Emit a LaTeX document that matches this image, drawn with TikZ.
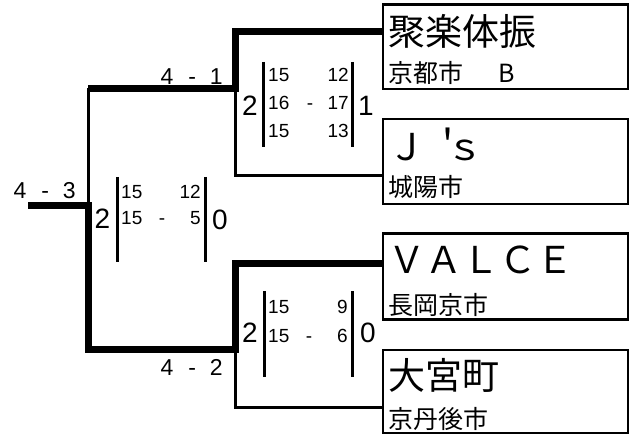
\documentclass[tikz,border=0pt]{standalone}
\usepackage{fontspec}
\setmainfont{Liberation Sans}
\newfontfamily\jp{Noto Sans CJK JP}
\begin{document}
\begin{tikzpicture}[x=1pt,y=-1pt,
  thickln/.style={line width=7pt},
  thinln/.style={line width=3pt},
  barln/.style={line width=3pt},
  team/.style={draw, line width=2.7pt, minimum width=245pt, inner sep=0pt},
  bigtxt/.style={font=\jp\fontsize{37}{40}\selectfont, anchor=west, inner sep=0pt},
  smalltxt/.style={font=\jp\fontsize{25}{28}\selectfont, anchor=west, inner sep=0pt},
  setn/.style={font=\fontsize{28}{30}\selectfont, inner sep=0pt},
  ptl/.style={font=\fontsize{19}{21}\selectfont, inner sep=0pt, anchor=base west},
  ptr/.style={font=\fontsize{19}{21}\selectfont, inner sep=0pt, anchor=base east},
  ptm/.style={font=\fontsize{19}{21}\selectfont, inner sep=0pt, anchor=base},
  res/.style={font=\fontsize{23}{25}\selectfont, inner sep=0pt, anchor=base east}
]
\useasboundingbox (0,0) rectangle (633,436);

% team boxes
\node[team, minimum height=84.5pt] (b1) at (505.5,46.75) {};
\node[team, minimum height=85pt]   (b2) at (505.5,161.5) {};
\node[team, minimum height=86pt]   (b3) at (505.5,276.5) {};
\node[team, minimum height=83pt]   (b4) at (505.5,391.5) {};

% team texts
\node[bigtxt]   (n1) at (388,31.5)  {聚楽体振};
\node[smalltxt] (c1) at (388,72.5)  {京都市　\hspace{10pt}B};
\node[bigtxt]   (n2) at (388,144.5) {Ｊ\kern4pt＇\kern-20pt ｓ};
\node[smalltxt] (c2) at (388,187)   {城陽市};
\node[bigtxt]   (n3) at (388,260)   {ＶＡＬＣＥ};
\node[smalltxt] (c3) at (388,304.5) {長岡京市};
\node[bigtxt]   (n4) at (388,375.5) {大宮町};
\node[smalltxt] (c4) at (388,418.5) {京丹後市};

% bracket corners
\coordinate (t1) at (235,32);
\coordinate (t2) at (235,88.5);
\coordinate (tb) at (235,176);
\coordinate (s1) at (88,88.5);
\coordinate (f)  at (88,205);
\coordinate (e)  at (28,205);
\coordinate (s2) at (88,349);
\coordinate (u2) at (235,349);
\coordinate (u1) at (235,263);
\coordinate (ub) at (235,407);

% connectors
\draw[thickln] (b1.west |- t1) -- (t1) -- (t2) -- (s1);
\draw[thinln]  (t2) -- (tb) -- (b2.west |- tb);
\draw[thinln]  (s1) -- (f);
\draw[thickln] (e) -- (f) -- (s2) -- (u2) -- (u1) -- (b3.west |- u1);
\draw[thinln]  (u2) -- (ub) -- (b4.west |- ub);

% match results
\node[res] (r1) at (223,85)  {4\hspace{15pt}-\hspace{14pt}1};
\node[res] (r3) at (76,198)  {4\hspace{15pt}-\hspace{14pt}3};
\node[res] (r2) at (223,375) {4\hspace{15pt}-\hspace{14pt}2};

% top match set scores
\node[setn] (m1l) at (250,106) {2};
\node[setn] (m1r) at (366,106) {1};
\draw[barln] (263.5,62) -- (263.5,147);
\draw[barln] (352,62) -- (352,147);
\node[ptl] (a1) at (268,82)  {15};
\node[ptr] (a2) at (349,82)  {12};
\node[ptl] (a3) at (268,110) {16};
\node[ptm] (a4) at (310,110) {-};
\node[ptr] (a5) at (349,110) {17};
\node[ptl] (a6) at (268,138) {15};
\node[ptr] (a7) at (349,138) {13};

% final set scores
\node[setn] (m2l) at (102.5,219) {2};
\node[setn] (m2r) at (220,220) {0};
\draw[barln] (117,177) -- (117,262);
\draw[barln] (205,177) -- (205,262);
\node[ptl] (d1) at (121,198) {15};
\node[ptr] (d2) at (201,198) {12};
\node[ptl] (d3) at (121,225) {15};
\node[ptm] (d4) at (162,225) {-};
\node[ptr] (d5) at (201,225) {5};

% bottom match set scores
\node[setn] (m3l) at (250,333) {2};
\node[setn] (m3r) at (368,333) {0};
\draw[barln] (264,291) -- (264,377);
\draw[barln] (352,291) -- (352,377);
\node[ptl] (g1) at (268,313) {15};
\node[ptr] (g2) at (348,313) {9};
\node[ptl] (g3) at (268,342) {15};
\node[ptm] (g4) at (309,342) {-};
\node[ptr] (g5) at (348,342) {6};
\end{tikzpicture}
\end{document}
